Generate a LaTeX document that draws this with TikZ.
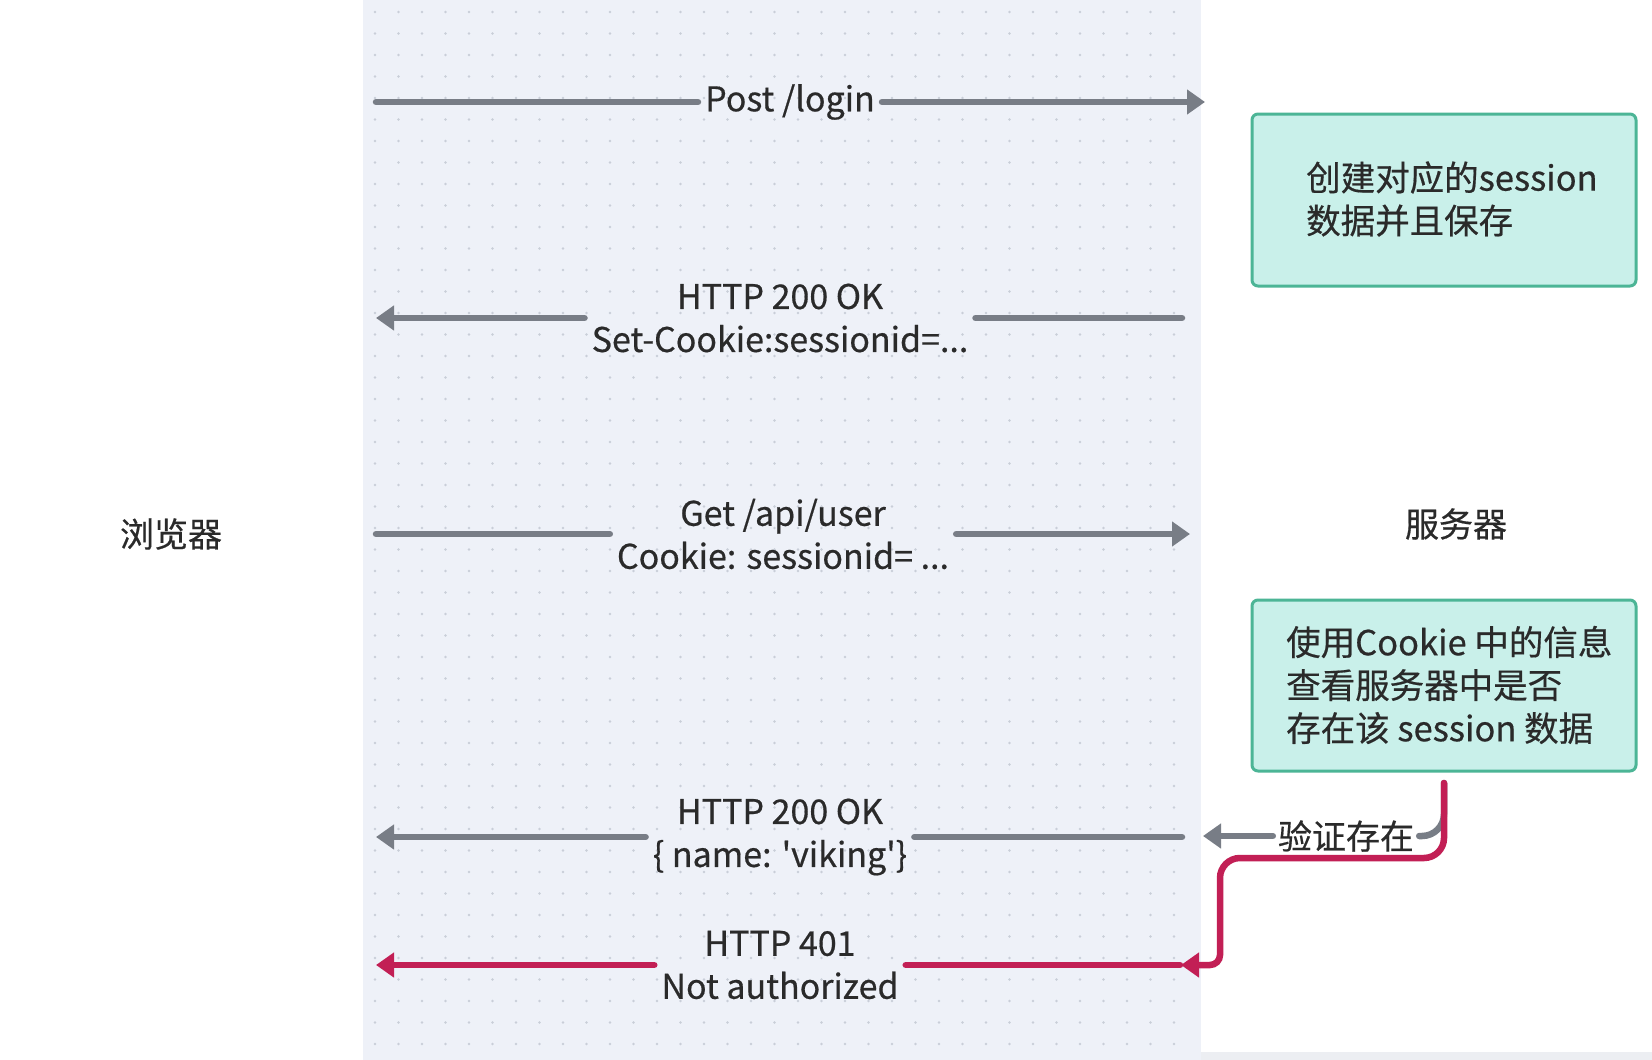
\documentclass[tikz,border=0pt]{standalone}
\usepackage{fontspec}
\setmainfont{Noto Sans CJK SC}[Ligatures=TeXOff, FakeBold=0.5]
\usetikzlibrary{arrows.meta}
\definecolor{panel}{HTML}{EEF1F8}
\definecolor{dotc}{HTML}{C9CED8}
\definecolor{garr}{HTML}{787D86}
\definecolor{rarr}{HTML}{C21F55}
\definecolor{boxfill}{HTML}{C9F0EA}
\definecolor{boxline}{HTML}{4CB596}
\definecolor{txt}{HTML}{2A2A2A}
\definecolor{strip}{HTML}{ECEEF2}
\tikzset{
  lbl/.style={font=\fontsize{34}{43}\selectfont, text=txt, align=center, inner xsep=7pt, inner ysep=0pt},
  gline/.style={draw=garr, line width=6.5pt, line cap=round},
  garrow/.style={gline, -{Triangle[length=18pt,width=24pt]}},
  rline/.style={draw=rarr, line width=6.5pt, line cap=round},
  rarrow/.style={rline, -{Triangle[length=18pt,width=24pt]}},
  sbox/.style={draw=boxline, line width=3pt, fill=boxfill, rounded corners=6pt, minimum width=384pt, minimum height=172pt, inner sep=0pt},
  btxt/.style={font=\fontsize{34.5}{43}\selectfont, text=txt, align=left, anchor=west, inner sep=0pt},
  actor/.style={font=\fontsize{34}{43}\selectfont, text=txt},
}
\begin{document}
\begin{tikzpicture}[x=1pt, y=-1pt]
\useasboundingbox (0,0) rectangle (1652,1060);
\fill[white] (0,0) rectangle (1652,1060);
% panel
\fill[panel] (363,0) rectangle (1201,1060);
\foreach \x in {375,398.5,...,1195} {
  \foreach \y in {12,33.5,...,1058} {
    \fill[dotc] (\x,\y) circle (1.3pt);
  }
}
\fill[strip] (1201,1052) rectangle (1652,1060);

% actors
\node[actor] (browser) at (171,534) {浏览器};
\node[actor] (server) at (1456,524) {服务器};

% boxes
\node[sbox] (box1) at (1444,200) {};
\node[btxt] (box1t) at (1306,199) {创建对应的session\\数据并且保存};
\node[sbox, minimum height=171pt] (box2) at (1444,685.5) {};
\node[btxt] (box2t) at (1286,685) {使用Cookie 中的信息\\查看服务器中是否\\存在该 session 数据};

% message 1
\coordinate (b1) at (376,102);
\coordinate (s1) at (1205,102);
\node[lbl] (m1) at (790,102) {Post /login};
\draw[gline] (b1) -- (m1);
\draw[garrow] (m1) -- (s1);

% message 2
\coordinate (s2) at (1182,318);
\coordinate (b2) at (376,318);
\node[lbl] (m2) at (780,318) {HTTP 200 OK\\Set-Cookie:sessionid=...};
\draw[gline] (s2) -- (m2);
\draw[garrow] (m2) -- (b2);

% message 3
\coordinate (b3) at (376,534);
\coordinate (s3) at (1190,534);
\node[lbl] (m3) at (783,534) {Get /api/user\\Cookie: sessionid= ...};
\draw[gline] (b3) -- (m3);
\draw[garrow] (m3) -- (s3);

% message 4
\coordinate (s4) at (1182,837);
\coordinate (b4) at (376,837);
\node[lbl] (m4) at (780,837) {HTTP 200 OK\\\{ name: 'viking'\}};
\draw[gline] (s4) -- (m4);
\draw[garrow] (m4) -- (b4);

% verification branch
\coordinate (v) at (1444,783);
\coordinate (t4) at (1203,836);
\node[lbl, inner xsep=5pt] (vl) at (1346,836) {验证存在};
\draw[gline, rounded corners=22pt] (v) -- (1444,836) -- (vl);
\draw[garrow] (vl) -- (t4);

\coordinate (r5) at (1181,965);
\draw[rarrow, rounded corners=20pt] (v) -- (1444,858) -- (1220,858) [rounded corners=10pt] -- (1220,965) -- (r5);

% message 5
\coordinate (s5) at (1180,965);
\coordinate (b5) at (376,965);
\node[lbl] (m5) at (780,965) {HTTP 401\\Not authorized};
\draw[rline] (s5) -- (m5);
\draw[rarrow] (m5) -- (b5);
\end{tikzpicture}
\end{document}
